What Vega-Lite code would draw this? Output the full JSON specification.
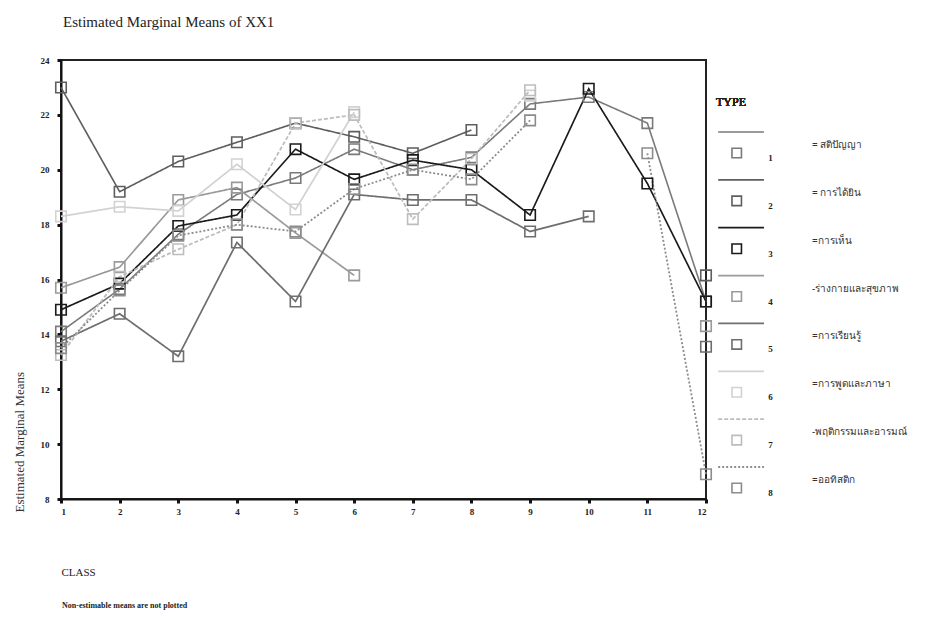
{
  "$schema": "https://vega.github.io/schema/vega-lite/v6.json",
  "background": "white",
  "padding": {"left": 12, "top": 14, "right": 0, "bottom": 4},
  "config": {
    "font": "Liberation Serif",
    "view": {"stroke": "#222", "strokeWidth": 2},
    "concat": {"spacing": 0}
  },
  "title": {"text": "Non-estimable means are not plotted", "orient": "bottom", "anchor": "start", "fontSize": 8, "font": "Liberation Serif", "fontWeight": "bold", "color": "#222", "offset": 24, "dx": 50},
  "datasets": {
    "means": [
      {"class":1,"type":1,"mean":14.1},{"class":2,"type":1,"mean":15.65},{"class":3,"type":1,"mean":17.65},{"class":4,"type":1,"mean":19.1},{"class":5,"type":1,"mean":19.7},{"class":6,"type":1,"mean":20.75},{"class":7,"type":1,"mean":20.0},{"class":8,"type":1,"mean":20.45},{"class":9,"type":1,"mean":22.4},{"class":10,"type":1,"mean":22.65},{"class":11,"type":1,"mean":21.7},{"class":12,"type":1,"mean":15.2},
      {"class":1,"type":2,"mean":23.0},{"class":2,"type":2,"mean":19.2},{"class":3,"type":2,"mean":20.3},{"class":4,"type":2,"mean":21.0},{"class":5,"type":2,"mean":21.7},{"class":6,"type":2,"mean":21.2},{"class":7,"type":2,"mean":20.6},{"class":8,"type":2,"mean":21.45},{"class":9,"type":2,"mean":null},{"class":10,"type":2,"mean":null},{"class":11,"type":2,"mean":null},{"class":12,"type":2,"mean":16.15},
      {"class":1,"type":3,"mean":14.9},{"class":2,"type":3,"mean":15.85},{"class":3,"type":3,"mean":17.95},{"class":4,"type":3,"mean":18.35},{"class":5,"type":3,"mean":20.75},{"class":6,"type":3,"mean":19.65},{"class":7,"type":3,"mean":20.35},{"class":8,"type":3,"mean":20.0},{"class":9,"type":3,"mean":18.35},{"class":10,"type":3,"mean":22.95},{"class":11,"type":3,"mean":19.5},{"class":12,"type":3,"mean":15.2},
      {"class":1,"type":4,"mean":15.7},{"class":2,"type":4,"mean":16.45},{"class":3,"type":4,"mean":18.9},{"class":4,"type":4,"mean":19.35},{"class":5,"type":4,"mean":17.7},{"class":6,"type":4,"mean":16.15},{"class":7,"type":4,"mean":null},{"class":8,"type":4,"mean":null},{"class":9,"type":4,"mean":null},{"class":10,"type":4,"mean":null},{"class":11,"type":4,"mean":null},{"class":12,"type":4,"mean":14.3},
      {"class":1,"type":5,"mean":13.75},{"class":2,"type":5,"mean":14.75},{"class":3,"type":5,"mean":13.2},{"class":4,"type":5,"mean":17.35},{"class":5,"type":5,"mean":15.2},{"class":6,"type":5,"mean":19.1},{"class":7,"type":5,"mean":18.9},{"class":8,"type":5,"mean":18.9},{"class":9,"type":5,"mean":17.75},{"class":10,"type":5,"mean":18.3},{"class":11,"type":5,"mean":null},{"class":12,"type":5,"mean":13.55},
      {"class":1,"type":6,"mean":18.3},{"class":2,"type":6,"mean":18.65},{"class":3,"type":6,"mean":18.5},{"class":4,"type":6,"mean":20.2},{"class":5,"type":6,"mean":18.55},{"class":6,"type":6,"mean":22.1},{"class":7,"type":6,"mean":null},{"class":8,"type":6,"mean":null},{"class":9,"type":6,"mean":22.7},{"class":10,"type":6,"mean":null},{"class":11,"type":6,"mean":null},{"class":12,"type":6,"mean":null},
      {"class":1,"type":7,"mean":13.25},{"class":2,"type":7,"mean":16.1},{"class":3,"type":7,"mean":17.1},{"class":4,"type":7,"mean":18.0},{"class":5,"type":7,"mean":21.7},{"class":6,"type":7,"mean":22.0},{"class":7,"type":7,"mean":18.2},{"class":8,"type":7,"mean":20.4},{"class":9,"type":7,"mean":22.9},{"class":10,"type":7,"mean":null},{"class":11,"type":7,"mean":null},{"class":12,"type":7,"mean":null},
      {"class":1,"type":8,"mean":13.5},{"class":2,"type":8,"mean":15.6},{"class":3,"type":8,"mean":17.6},{"class":4,"type":8,"mean":18.0},{"class":5,"type":8,"mean":17.75},{"class":6,"type":8,"mean":19.3},{"class":7,"type":8,"mean":20.0},{"class":8,"type":8,"mean":19.65},{"class":9,"type":8,"mean":21.8},{"class":10,"type":8,"mean":null},{"class":11,"type":8,"mean":20.6},{"class":12,"type":8,"mean":8.9}
    ],
    "legend": [
      {"type":1,"label":"= สติปัญญา"},
      {"type":2,"label":"= การได้ยิน"},
      {"type":3,"label":"=การเห็น"},
      {"type":4,"label":"-ร่างกายและสุขภาพ"},
      {"type":5,"label":"=การเรียนรู้"},
      {"type":6,"label":"=การพูดและภาษา"},
      {"type":7,"label":"-พฤติกรรมและอารมณ์"},
      {"type":8,"label":"=ออทิสติก"}
    ]
  },
  "hconcat": [
    {
      "width": 645,
      "height": 439,
      "title": {"text": "Estimated Marginal Means of XX1", "anchor": "start", "fontSize": 15, "fontWeight": "normal", "font": "Liberation Serif", "color": "#222", "offset": 26, "dx": 50},
      "data": {"name": "means"},
      "encoding": {
        "x": {"field": "class", "type": "quantitative", "scale": {"domain": [1, 12], "nice": false, "zero": false},
          "axis": {"values": [1,2,3,4,5,6,7,8,9,10,11,12], "title": "CLASS", "titleAnchor": "start", "titleAlign": "left", "titleX": 0, "titlePadding": 50, "titleFontSize": 11, "titleFontWeight": "normal", "titleColor": "#222", "titleFont": "Liberation Serif",
            "labelFontSize": 9, "labelFontWeight": "bold", "labelColor": "#222", "labelFont": "Liberation Serif", "labelPadding": 4, "tickSize": 4, "tickWidth": 3, "tickColor": "#111", "domainColor": "#111", "domainWidth": 2, "grid": false}},
        "y": {"field": "mean", "type": "quantitative", "scale": {"domain": [8, 24], "nice": false, "zero": false},
          "axis": {"values": [8,10,12,14,16,18,20,22,24], "title": "Estimated Marginal Means", "titleAnchor": "start", "titlePadding": 14, "titleFontSize": 13, "titleFontWeight": "normal", "titleColor": "#333", "titleFont": "Liberation Serif", "titleY": 452,
            "labelFontSize": 9, "labelFontWeight": "bold", "labelColor": "#222", "labelFont": "Liberation Serif", "labelPadding": 8, "tickSize": 4, "tickWidth": 3, "tickColor": "#111", "domainColor": "#111", "domainWidth": 2, "grid": false}},
        "color": {"field": "type", "type": "nominal", "legend": null,
          "scale": {"domain": [1,2,3,4,5,6,7,8], "range": ["#7a7a7a", "#5e5e5e", "#1a1a1a", "#9a9a9a", "#6e6e6e", "#d2d2d2", "#bdbdbd", "#8c8c8c"]}},
        "detail": {"field": "type", "type": "nominal"}
      },
      "layer": [
        {
          "mark": {"type": "line", "invalid": "break-paths-show-domains"},
          "encoding": {
            "strokeWidth": {"field": "type", "type": "nominal", "legend": null, "scale": {"domain": [1,2,3,4,5,6,7,8], "range": [1.6, 1.8, 2.4, 1.4, 1.8, 1.2, 1.2, 1.4]}},
            "strokeDash": {"field": "type", "type": "nominal", "legend": null, "scale": {"domain": [1,2,3,4,5,6,7,8], "range": [[1,0],[1,0],[1,0],[1,0],[1,0],[1,0],[4,2],[2,2]]}}
          }
        },
        {
          "mark": {"type": "point", "shape": "square", "filled": false, "size": 110, "strokeWidth": 1.6, "opacity": 1},
          "encoding": {}
        }
      ]
    },
    {
      "width": 218,
      "height": 439,
      "view": {"stroke": null},
      "data": {"name": "legend"},
      "encoding": {
        "y": {"field": "type", "type": "quantitative", "scale": {"domain": [8.23, -0.943], "nice": false, "zero": false}, "axis": null}
      },
      "layer": [
        {
          "mark": {"type": "rule", "yOffset": -21},
          "encoding": {
            "x": {"datum": 0.01, "type": "quantitative", "scale": {"domain": [0, 1], "nice": false}, "axis": null},
            "x2": {"datum": 0.22},
            "color": {"field": "type", "type": "nominal", "legend": null, "scale": {"domain": [1,2,3,4,5,6,7,8], "range": ["#7a7a7a", "#5e5e5e", "#1a1a1a", "#9a9a9a", "#6e6e6e", "#d2d2d2", "#bdbdbd", "#8c8c8c"]}},
            "strokeWidth": {"field": "type", "type": "nominal", "legend": null, "scale": {"domain": [1,2,3,4,5,6,7,8], "range": [1.4, 1.6, 2.2, 1.3, 1.6, 1.2, 1.2, 1.4]}},
            "strokeDash": {"field": "type", "type": "nominal", "legend": null, "scale": {"domain": [1,2,3,4,5,6,7,8], "range": [[1,0],[1,0],[1,0],[1,0],[1,0],[1,0],[4,2],[2,2]]}}
          }
        },
        {
          "mark": {"type": "point", "shape": "square", "filled": false, "size": 90, "strokeWidth": 1.6, "opacity": 1},
          "encoding": {
            "x": {"datum": 0.095, "type": "quantitative"},
            "color": {"field": "type", "type": "nominal", "legend": null}
          }
        },
        {
          "mark": {"type": "text", "align": "left", "baseline": "middle", "dy": 5, "fontSize": 9, "fontWeight": "bold", "color": "#222", "font": "Liberation Serif"},
          "encoding": {
            "x": {"datum": 0.24, "type": "quantitative"},
            "text": {"field": "type", "type": "nominal"}
          }
        },
        {
          "mark": {"type": "text", "align": "left", "baseline": "middle", "dy": -8, "fontSize": 10, "color": "#333", "font": "Noto Sans"},
          "encoding": {
            "x": {"datum": 0.44, "type": "quantitative"},
            "text": {"field": "label", "type": "nominal"}
          }
        },
        {
          "mark": {"type": "text", "align": "left", "baseline": "middle", "fontSize": 12, "fontWeight": "normal", "color": "#222", "font": "Liberation Serif", "text": "TYPE"},
          "encoding": {
            "x": {"datum": 0.0, "type": "quantitative"},
            "y": {"datum": -0.06, "type": "quantitative"}
          }
        }
      ]
    }
  ]
}
